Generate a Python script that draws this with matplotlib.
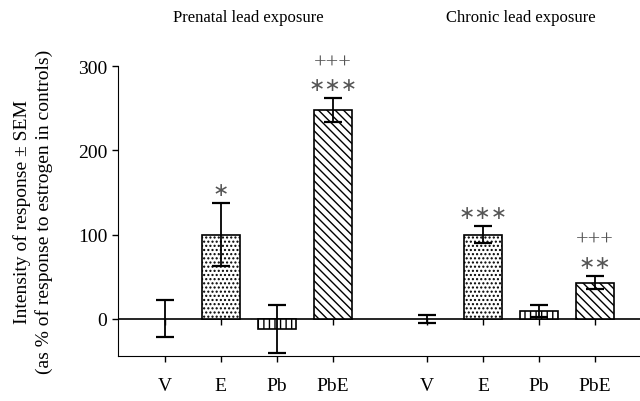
import matplotlib
matplotlib.use("Agg")
import matplotlib.pyplot as plt

plt.rcParams['font.family'] = ['Liberation Serif', 'DejaVu Serif']
plt.rcParams['hatch.linewidth'] = 1.0

# data
labels = ["V", "E", "Pb", "PbE", "V", "E", "Pb", "PbE"]
positions = [1, 2, 3, 4, 5.68, 6.68, 7.68, 8.68]
values = [0, 100, -12, 248, 0, 100, 9, 43]
sem = [22, 37, 28.5, 14, 5, 10, 7, 8]
hatches = ["", "....", "|||", "\\\\\\\\", "", "....", "|||", "\\\\\\\\"]
stars = ["", "*", "", "***", "", "***", "", "**"]
plus = ["", "", "", "+++", "", "", "", "+++"]
group_titles = ["Prenatal lead exposure", "Chronic lead exposure"]

fig = plt.figure(figsize=(6.4, 4.02), dpi=100)
ax = fig.add_axes([0.184, 0.112, 0.816, 0.721])

for x, v, h in zip(positions, values, hatches):
    if v != 0:
        ax.bar(x, v, width=0.68, color="white", edgecolor="black",
               hatch=h, linewidth=1.2, zorder=2)

ax.errorbar(positions, values, yerr=sem, fmt="none", ecolor="black",
            elinewidth=1.3, capsize=6.5, capthick=1.6, zorder=3)

for x, v, e, s, p in zip(positions, values, sem, stars, plus):
    top = v + e
    if s:
        ax.text(x, top + 16, "\u2217" * len(s), ha="center", va="center",
                fontsize=14, color="#555555", family=['DejaVu Sans'])
    if p:
        ax.text(x, top + 42, p, ha="center", va="center",
                fontsize=16, color="#555555")

ax.axhline(0, color="black", linewidth=1.2, zorder=1)

ax.set_xlim(0.16, 9.48)
ax.set_ylim(-44, 300)
ax.set_yticks([0, 100, 200, 300])
ax.set_xticks(positions)
ax.set_xticklabels(labels)
ax.tick_params(axis="both", labelsize=14, length=4, width=1, direction="out")
ax.tick_params(axis="x", pad=11)
for side in ["top", "right"]:
    ax.spines[side].set_visible(False)
ax.spines["left"].set_bounds(-44, 300)

# little ticks under the zero line
zero_ax = ax.secondary_xaxis(44 / 344)
zero_ax.set_xticks(positions)
zero_ax.set_xticklabels([])
zero_ax.tick_params(length=4, width=1)
zero_ax.spines["bottom"].set_visible(False)

ax.set_ylabel("Intensity of response \u00b1 SEM\n(as % of response to estrogen in controls)",
              fontsize=14, labelpad=18, linespacing=1.3)

fig.text(248 / 640, 1 - 18 / 402, group_titles[0], ha="center", va="center", fontsize=12)
fig.text(521 / 640, 1 - 18 / 402, group_titles[1], ha="center", va="center", fontsize=12)

fig.savefig("out.png", dpi=100)
